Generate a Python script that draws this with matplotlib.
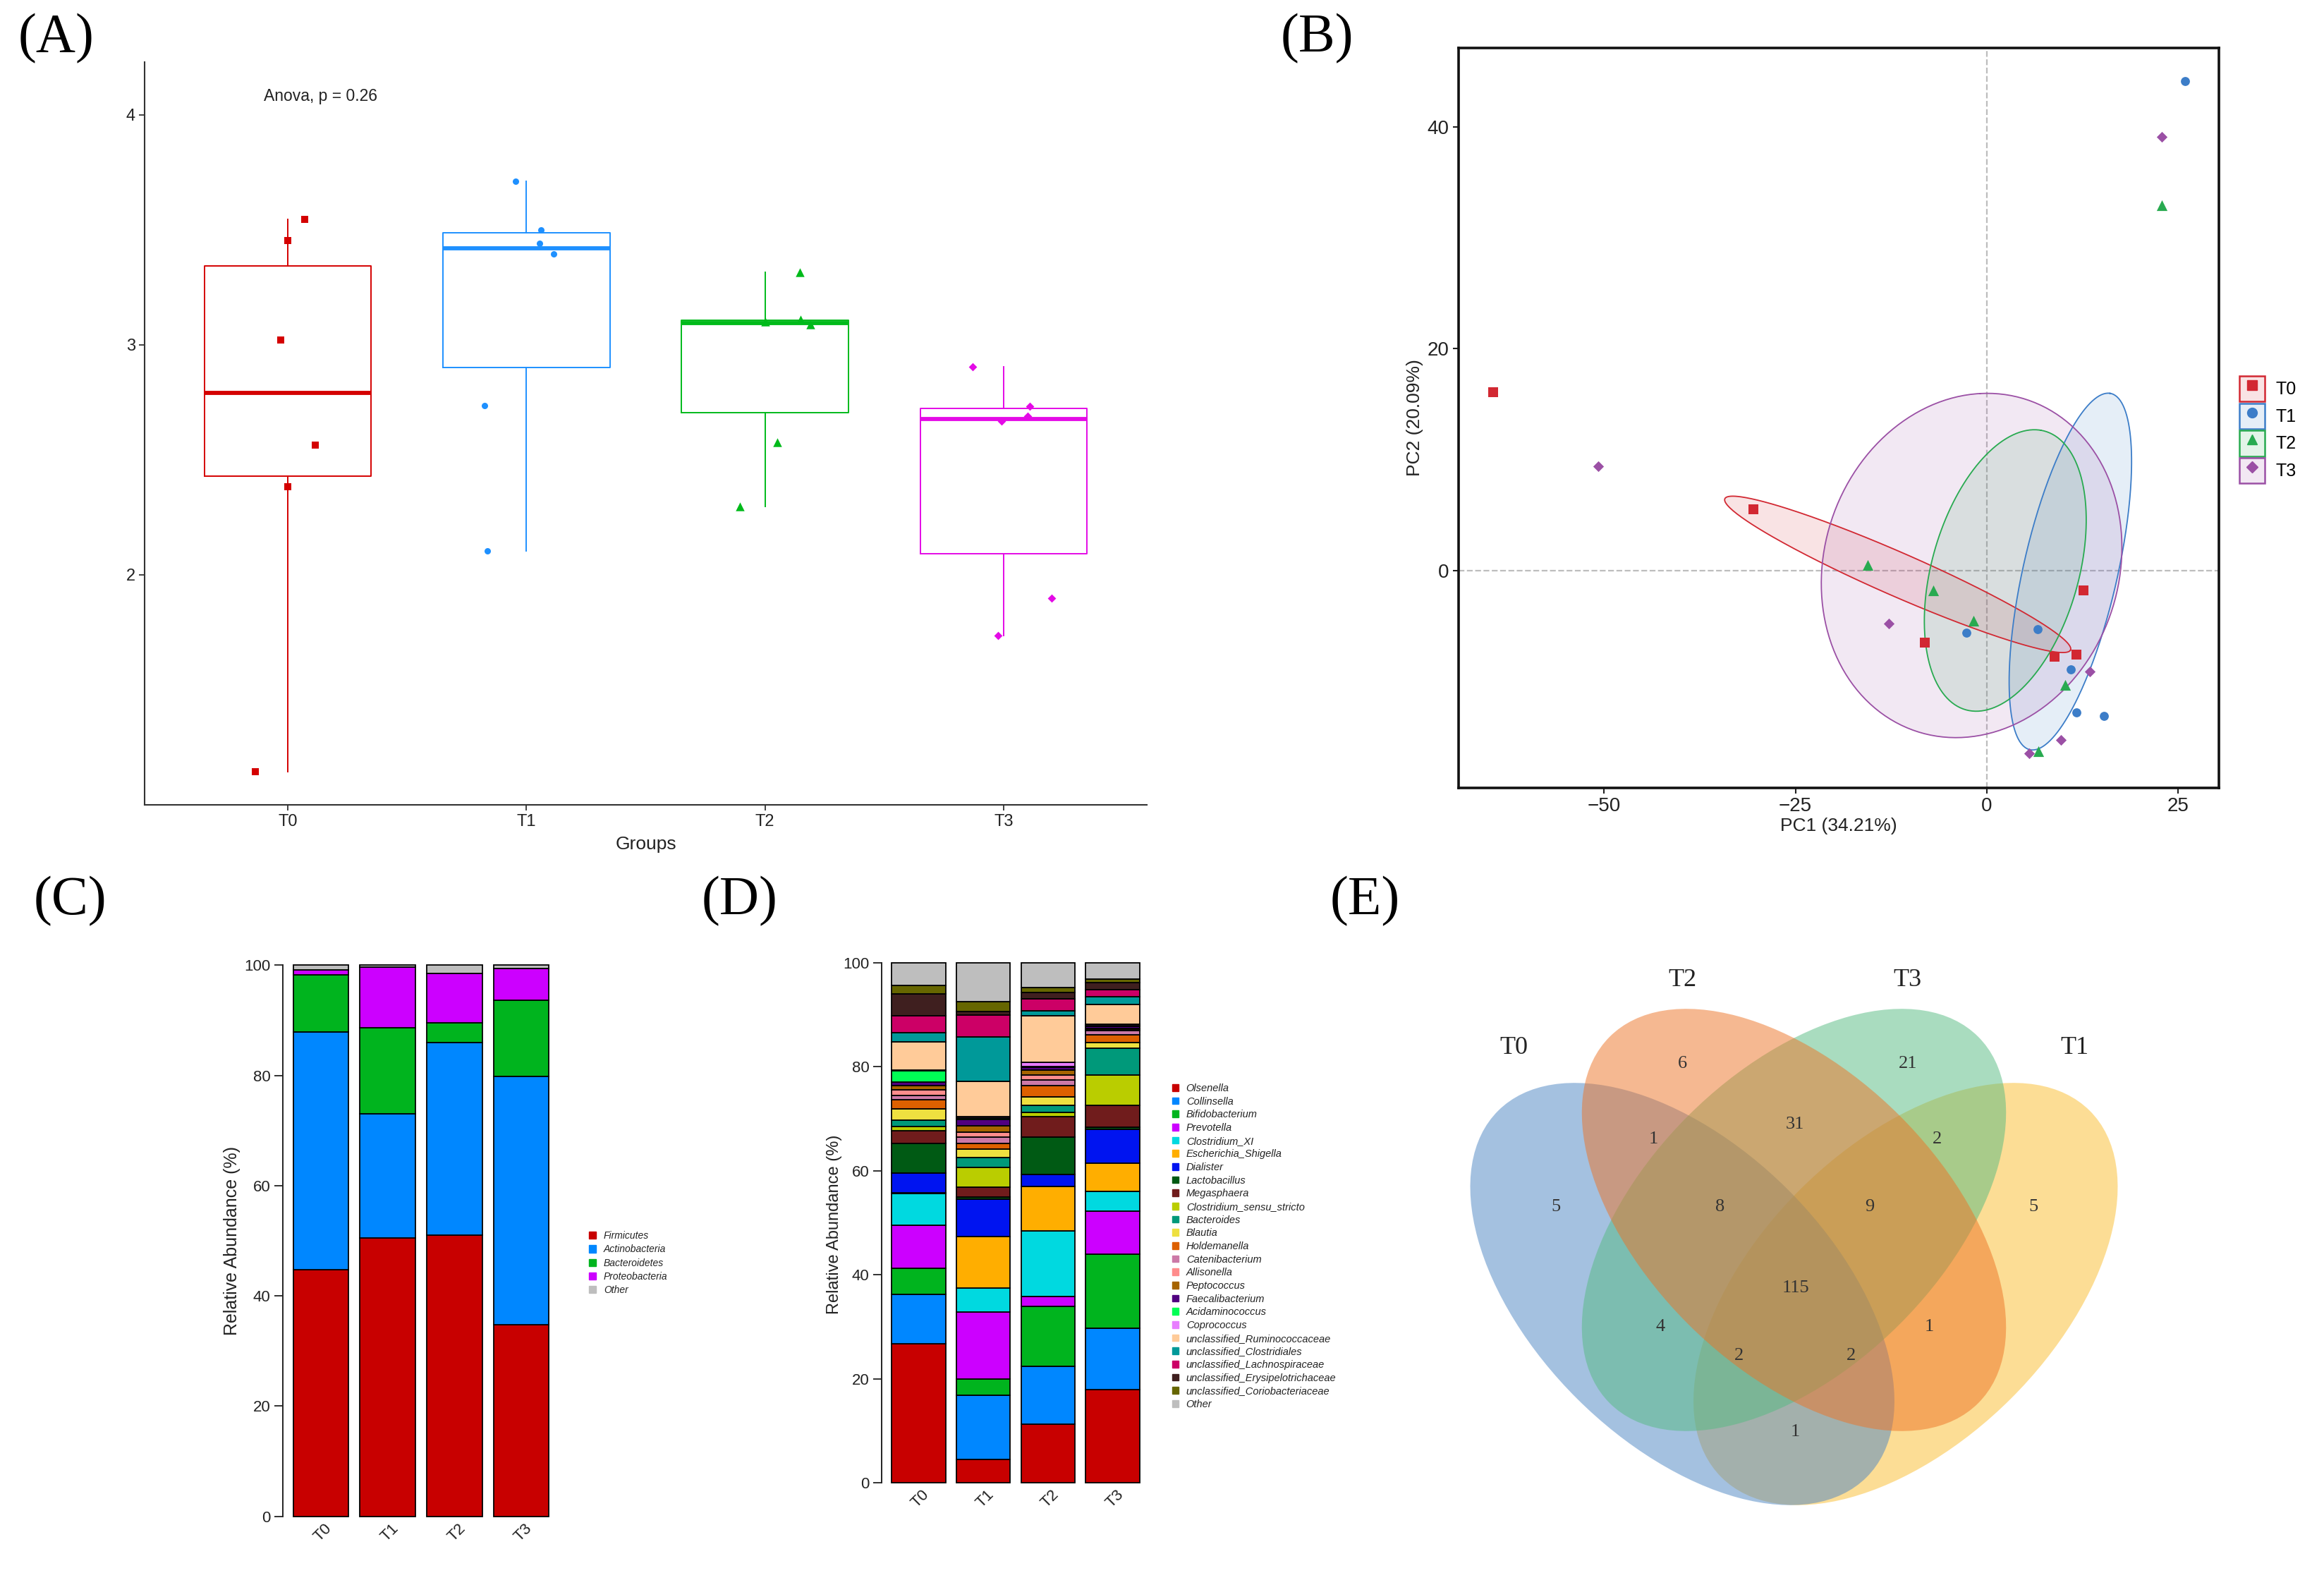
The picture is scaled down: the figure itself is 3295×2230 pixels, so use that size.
import numpy as np
import matplotlib
matplotlib.use('Agg')
import matplotlib.pyplot as plt
from matplotlib.patches import Ellipse, Patch
from matplotlib.lines import Line2D
from matplotlib.legend_handler import HandlerTuple
from matplotlib.colors import to_rgba

W, H, DPI = 3295, 2230, 100
plt.rcParams['font.family'] = ['Liberation Sans', 'DejaVu Sans']
SERIF = ['Liberation Serif', 'DejaVu Serif']

groups = ['T0', 'T1', 'T2', 'T3']

# ---- (A) diversity index per sample
a_t0 = [3.545, 3.453, 3.02, 2.564, 2.383, 1.143]
a_t1 = [3.712, 3.501, 3.443, 3.397, 2.736, 2.104]
a_t2 = [3.315, 3.11, 3.09, 3.10, 2.576, 2.298]
a_t3 = [2.906, 2.734, 2.69, 2.668, 1.898, 1.736]
# jitter of the dots (x offset from the group)
a_jit_t0 = [0.07, 0.0, -0.03, 0.115, 0.0, -0.135]
a_jit_t1 = [-0.045, 0.06, 0.055, 0.115, -0.175, -0.165]
a_jit_t2 = [0.145, 0.15, 0.19, 0.0, 0.05, -0.105]
a_jit_t3 = [-0.13, 0.11, 0.1, -0.01, 0.2, -0.025]
anova_p = 0.26

# ---- (B) PCA scores
pc_t0_x = [-64.5, -30.5, -8.1, 12.6, 8.8, 11.7]
pc_t0_y = [16.1, 5.5, -6.5, -1.8, -7.8, -7.6]
pc_t1_x = [25.9, -2.7, 6.6, 11.0, 11.7, 15.3]
pc_t1_y = [44.1, -5.6, -5.3, -8.9, -12.8, -13.1]
pc_t2_x = [22.8, -15.6, -7.0, -1.8, 10.2, 6.7]
pc_t2_y = [32.9, 0.5, -1.8, -4.5, -10.3, -16.3]
pc_t3_x = [22.8, -50.8, -12.8, 13.4, 9.7, 5.5]
pc_t3_y = [39.1, 9.4, -4.8, -9.1, -15.3, -16.5]
# confidence ellipses: centre, two half-axis vectors
ell_t0 = [(-11.65, -0.35), (22.55, -6.85), (-1.56, -1.66)]
ell_t1 = [(10.9, -0.1), (5.17, 16.07), (6.1, -0.63)]
ell_t2 = [(2.4, 0.0), (4.64, 12.64), (9.5, -1.1)]
ell_t3 = [(-2.0, 0.45), (1.1, 15.5), (19.6, 0.75)]
pc1_var = 34.21
pc2_var = 20.09

# ---- (C) phylum relative abundance (%), per group T0..T3
phyla = ['Firmicutes', 'Actinobacteria', 'Bacteroidetes', 'Proteobacteria', 'Other']
firmicutes = [44.7, 50.5, 51.0, 34.8]
actinobacteria = [43.2, 22.5, 35.0, 45.0]
bacteroidetes = [10.4, 15.7, 3.6, 13.8]
proteobacteria = [0.8, 11.0, 8.9, 5.8]
phylum_other = [0.9, 0.3, 1.5, 0.6]
phylum_colors = ['#C80000', '#0087FF', '#00B41E', '#CC00FF', '#BEBEBE']

# ---- (D) genus relative abundance (%)
genera = ['Olsenella', 'Collinsella', 'Bifidobacterium', 'Prevotella', 'Clostridium_XI',
          'Escherichia_Shigella', 'Dialister', 'Lactobacillus', 'Megasphaera',
          'Clostridium_sensu_stricto', 'Bacteroides', 'Blautia', 'Holdemanella',
          'Catenibacterium', 'Allisonella', 'Peptococcus', 'Faecalibacterium',
          'Acidaminococcus', 'Coprococcus', 'unclassified_Ruminococcaceae',
          'unclassified_Clostridiales', 'unclassified_Lachnospiraceae',
          'unclassified_Erysipelotrichaceae', 'unclassified_Coriobacteriaceae', 'Other']
genus_t0 = [26.8, 9.5, 5.0, 8.2, 6.1, 0.1, 3.8, 5.8, 2.4, 0.8, 1.2, 2.2, 1.7,
            0.9, 1.1, 0.7, 0.8, 2.1, 0.2, 5.4, 1.7, 3.3, 4.2, 1.6, 4.4]
genus_t1 = [4.5, 12.4, 3.1, 12.9, 4.5, 9.9, 7.2, 0.4, 2.0, 3.8, 1.8, 1.7, 1.1,
            1.2, 0.9, 1.2, 1.2, 0.3, 0.3, 6.8, 8.5, 4.2, 0.7, 1.9, 7.5]
genus_t2 = [11.3, 11.1, 11.5, 1.9, 12.7, 8.5, 2.3, 7.1, 4.0, 0.8, 1.3, 1.7, 2.1,
            1.2, 0.9, 1.0, 0.5, 0.1, 0.8, 9.0, 0.9, 2.3, 1.3, 0.9, 4.8]
genus_t3 = [17.9, 11.8, 14.3, 8.2, 3.8, 5.4, 6.5, 0.4, 4.2, 5.9, 5.2, 1.0, 1.5,
            0.8, 0.2, 0.2, 0.4, 0.2, 0.3, 3.7, 1.5, 1.4, 1.3, 0.7, 3.2]
genus_colors = ['#C80000', '#0087FF', '#00B41E', '#CC00FF', '#00D9E0', '#FFAE00',
                '#0014F0', '#005A14', '#701C1C', '#BACD00', '#00997A', '#EEE040',
                '#DD6000', '#CC79A7', '#FF8C8C', '#A66400', '#500080', '#00FF55',
                '#E87EFF', '#FFCB99', '#009999', '#CC0066', '#3F1F1F', '#666600',
                '#BEBEBE']

# ---- (E) Venn counts
venn_regions = ['T0', 'T2', 'T3', 'T1', 'T0&T2', 'T2&T3', 'T3&T1', 'T0&T2&T3',
                'T2&T3&T1', 'all', 'T0&T3', 'T2&T1', 'T0&T3&T1', 'T0&T2&T1', 'T0&T1']
venn_counts = [5, 6, 21, 5, 1, 31, 2, 8, 9, 115, 4, 1, 2, 2, 1]


fig = plt.figure(figsize=(W / DPI, H / DPI), dpi=DPI)


def box(l, t, r, b):
    return fig.add_axes([l / W, 1 - b / H, (r - l) / W, (b - t) / H])


def letter(x, y, s):
    fig.text(x / W, 1 - y / H, s, family=SERIF, fontsize=56, ha='center', va='center')


# ================= (A) =================
axA = box(205, 88, 1626, 1141)
a_vals = [a_t0, a_t1, a_t2, a_t3]
a_jits = [a_jit_t0, a_jit_t1, a_jit_t2, a_jit_t3]
a_colors = ['#D40000', '#1E90FF', '#00BA1A', '#E40AE6']
a_markers = ['s', 'o', '^', 'D']
a_sizes = [62, 42, 80, 36]

bp = axA.boxplot(a_vals, positions=range(4), widths=0.7, whis=1.5,
                 showfliers=False, showcaps=False)
for i, c in enumerate(a_colors):
    plt.setp(bp['boxes'][i], color=c, lw=1.4)
    plt.setp(bp['medians'][i], color=c, lw=4.2, solid_capstyle='butt')
    plt.setp(bp['whiskers'][2 * i:2 * i + 2], color=c, lw=1.4)
    axA.scatter(i + np.array(a_jits[i]), a_vals[i], marker=a_markers[i],
                s=a_sizes[i], color=c, lw=0, zorder=3)

axA.set_xlim(-0.6, 3.6)
axA.set_ylim(1.0, 4.23)
axA.set_yticks([2, 3, 4])
axA.set_xticks(range(4))
axA.set_xticklabels(groups)
for s in ['top', 'right']:
    axA.spines[s].set_visible(False)
for s in ['left', 'bottom']:
    axA.spines[s].set_color('#333333')
    axA.spines[s].set_linewidth(1.5)
axA.tick_params(labelsize=17, colors='#333333', length=6, width=1.3, labelcolor='#222222')
axA.set_xlabel('Groups', fontsize=19, color='#222222', labelpad=6)
axA.text(-0.1, 4.08, 'Anova, p = %.2f' % anova_p, fontsize=16.5, color='#222222',
         ha='left', va='center')
letter(80, 55, '(A)')

# ================= (B) =================
axB = box(2068, 68, 3146, 1117)
b_colors = ['#D22832', '#3C7DC8', '#28AA50', '#9B50A5']
b_markers = ['s', 'o', '^', 'D']
b_sizes = [95, 85, 120, 60]
pcs = [(pc_t0_x, pc_t0_y), (pc_t1_x, pc_t1_y), (pc_t2_x, pc_t2_y), (pc_t3_x, pc_t3_y)]
ells = [ell_t0, ell_t1, ell_t2, ell_t3]

axB.axvline(0, color='#BDBDBD', ls='--', lw=1.6, zorder=0)
axB.axhline(0, color='#BDBDBD', ls='--', lw=1.6, zorder=0)
t = np.linspace(0, 2 * np.pi, 300)
for (c, u, v), col in zip(ells, b_colors):
    ex = c[0] + np.cos(t) * u[0] + np.sin(t) * v[0]
    ey = c[1] + np.cos(t) * u[1] + np.sin(t) * v[1]
    axB.fill(ex, ey, color=col, alpha=0.13, lw=0, zorder=1)
    axB.plot(ex, ey, color=col, lw=1.3, zorder=2)
for (xs, ys), col, m, sz in zip(pcs, b_colors, b_markers, b_sizes):
    axB.scatter(xs, ys, marker=m, s=sz, color=col, lw=0, zorder=3)

axB.set_xlim(-69, 30.3)
axB.set_ylim(-19.6, 47.1)
axB.set_xticks([-50, -25, 0, 25])
axB.set_yticks([0, 20, 40])
for s in axB.spines.values():
    s.set_linewidth(2.6)
    s.set_color('#111111')
axB.tick_params(labelsize=20, colors='#222222', length=6, width=1.5)
axB.set_xlabel('PC1 (%.2f%%)' % pc1_var, fontsize=19, color='#222222', labelpad=2)
axB.set_ylabel('PC2 (%.2f%%)' % pc2_var, fontsize=19, color='#222222', labelpad=4)

handles = [(Patch(facecolor=to_rgba(col, 0.13), edgecolor=col, lw=1.8),
            Line2D([], [], ls='none', marker=m, color=col, ms=10 if m != 'D' else 8))
           for col, m in zip(b_colors, b_markers)]
axB.legend(handles, groups, handler_map={tuple: HandlerTuple(ndivide=1, pad=0)},
           loc='upper left', bbox_to_anchor=(3175 / W, 1 - 533 / H),
           bbox_transform=fig.transFigure, frameon=False, fontsize=18,
           handlelength=1.45, handleheight=1.85, labelspacing=0.1,
           handletextpad=0.6, borderpad=0, borderaxespad=0)
letter(1867, 55, '(B)')


# ================= (C) & (D) stacked bars =================
def stacked(ax, layers, colors, unit_fs):
    xs = 0.7 + 1.2 * np.arange(4)
    bottom = np.zeros(4)
    for vals, col in zip(layers, colors):
        vals = np.array(vals)
        ax.bar(xs, vals, width=1.0, bottom=bottom, color=col, edgecolor='black', lw=1.3)
        bottom += vals
    ax.set_xlim(0.016, 4.984)
    ax.set_ylim(-4, 104)
    ax.set_yticks(range(0, 101, 20))
    ax.set_xticks([])
    for s in ['top', 'right', 'bottom']:
        ax.spines[s].set_visible(False)
    ax.spines['left'].set_bounds(0, 100)
    ax.spines['left'].set_linewidth(1.4)
    ax.spines['left'].set_color('#222222')
    ax.tick_params(axis='y', labelsize=16, length=9, width=1.3, colors='#222222')
    for x, g in zip(xs, groups):
        ax.text(x + 0.06, -0.8, g, rotation=45, ha='right', va='top',
                rotation_mode='anchor', fontsize=unit_fs, color='#222222')


axC = box(401, 1337, 793, 2181)
stacked(axC, [firmicutes, actinobacteria, bacteroidetes, proteobacteria, phylum_other],
        phylum_colors, 16)
fig.text(329 / W, 1 - 1759 / H, 'Relative Abundance (%)', rotation=90, fontsize=18,
         ha='center', va='center', color='#222222')
axC.legend([Patch(color=c) for c in phylum_colors], phyla, loc='upper left',
           bbox_to_anchor=(835 / W, 1 - 1745 / H), bbox_transform=fig.transFigure,
           frameon=False, prop={'style': 'italic', 'size': 10}, handlelength=0.75,
           handleheight=0.75, handletextpad=0.75, labelspacing=0.38, borderpad=0,
           borderaxespad=0, labelcolor='#222222')
letter(99, 1278, '(C)')

axD = box(1250, 1335, 1630, 2132)
genus_layers = np.array([genus_t0, genus_t1, genus_t2, genus_t3]).T
stacked(axD, genus_layers, genus_colors, 16)
fig.text(1183 / W, 1 - 1736 / H, 'Relative Abundance (%)', rotation=90, fontsize=17,
         ha='center', va='center', color='#222222')
axD.legend([Patch(color=c) for c in genus_colors], genera, loc='upper left',
           bbox_to_anchor=(1662 / W, 1 - 1536 / H), bbox_transform=fig.transFigure,
           frameon=False, prop={'style': 'italic', 'size': 10.5}, handlelength=0.65,
           handleheight=0.65, handletextpad=0.7, labelspacing=0.32, borderpad=0,
           borderaxespad=0, labelcolor='#222222')
letter(1049, 1278, '(D)')

# ================= (E) Venn =================
axE = box(2016, 1278, 3071, 2230)
axE.set_xlim(0, 1)
axE.set_ylim(0.0933, 1.0)
axE.axis('off')
# drawing order yellow, blue, green, orange (as in the original overlap colours)
venn_shapes = [((0.65, 0.47), 45, '#FBBD2D'),   # T1
               ((0.35, 0.47), 135, '#4B85C3'),  # T0
               ((0.50, 0.57), 45, '#55BB81'),   # T3
               ((0.50, 0.57), 135, '#ED7325')]  # T2
for cen, ang, col in venn_shapes:
    axE.add_patch(Ellipse(cen, 0.7, 0.4, angle=ang, facecolor=col, alpha=0.5, lw=0))

venn_label_pos = {'T0': (0.124, 0.802), 'T2': (0.350, 0.894),
                  'T3': (0.653, 0.894), 'T1': (0.877, 0.802)}
for g, (x, y) in venn_label_pos.items():
    axE.text(x, y, g, family=SERIF, fontsize=26, ha='center', va='center', color='#222222')

venn_count_pos = [(0.180, 0.588), (0.350, 0.781), (0.653, 0.781), (0.822, 0.588),
                  (0.311, 0.679), (0.501, 0.699), (0.692, 0.679), (0.401, 0.588),
                  (0.602, 0.588), (0.502, 0.478), (0.320, 0.426), (0.682, 0.426),
                  (0.426, 0.387), (0.577, 0.387), (0.502, 0.284)]
for n, (x, y) in zip(venn_counts, venn_count_pos):
    axE.text(x, y, str(n), family=SERIF, fontsize=19, ha='center', va='center',
             color='#333333')
letter(1935, 1278, '(E)')

fig.savefig('out.png', dpi=DPI)
